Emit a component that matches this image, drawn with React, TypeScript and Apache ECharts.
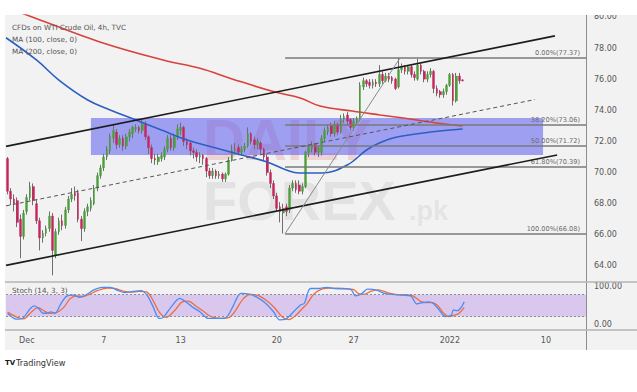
import React, { useEffect, useRef } from 'react';
import * as echarts from 'echarts';

// ---------- data ----------
const N_SLOTS = 181; // 4h slots incl. empty future space
const xTickIdx = [6, 30, 54, 84, 108, 138, 168];
const xTickText = ['Dec', '7', '13', '20', '27', '2022', '10'];
const priceTicks = [64, 66, 68, 70, 72, 74, 76, 78, 80];
const stochTicks = [0, 100];

// [open, close, low, high]
const ohlc: number[][] = [
  [70.9, 68.8, 68.6, 71.0], [68.8, 68.3, 67.9, 69.0], [68.3, 68.0, 67.5, 68.6], [68.2, 66.8, 66.5, 68.4],
  [67.0, 65.9, 64.5, 67.3], [65.9, 67.4, 65.7, 67.6], [67.5, 68.4, 67.3, 68.6], [68.4, 69.1, 68.2, 69.4],
  [69.1, 68.2, 67.9, 69.3], [68.0, 66.9, 66.7, 68.3], [66.9, 65.8, 65.0, 67.1], [65.8, 66.1, 65.5, 66.3],
  [66.1, 66.4, 65.9, 66.6], [66.4, 67.2, 66.2, 67.5], [67.2, 65.0, 63.4, 67.4], [64.7, 66.2, 64.5, 66.4],
  [66.2, 66.9, 66.0, 67.1], [66.9, 66.6, 66.3, 67.3], [66.6, 67.6, 66.4, 67.8], [67.6, 68.3, 67.4, 68.5],
  [68.3, 68.6, 68.1, 69.0], [68.7, 68.5, 68.2, 69.1], [68.7, 67.0, 66.8, 68.9], [67.0, 66.4, 65.6, 67.2],
  [66.4, 67.5, 66.2, 67.7], [67.5, 67.8, 67.2, 68.0], [67.7, 68.2, 67.5, 68.4], [68.0, 69.0, 67.9, 69.2],
  [69.0, 69.8, 68.8, 70.0], [69.8, 70.3, 69.6, 70.5], [70.3, 71.0, 70.1, 71.2], [71.0, 71.5, 70.8, 71.7],
  [71.4, 72.3, 71.2, 72.5], [72.2, 72.7, 71.9, 73.1], [72.6, 71.8, 71.5, 72.8], [71.8, 72.2, 71.6, 72.4],
  [72.2, 71.7, 71.4, 72.4], [71.7, 72.3, 71.5, 72.5], [72.3, 72.6, 72.0, 72.8], [72.5, 72.9, 72.2, 73.0],
  [72.8, 72.9, 72.6, 73.1], [72.9, 72.7, 72.5, 73.0], [72.7, 73.1, 72.5, 73.4], [73.1, 72.3, 72.1, 73.3],
  [72.3, 71.6, 71.2, 72.4], [71.6, 70.9, 70.6, 71.8], [70.9, 70.8, 70.5, 71.2], [70.7, 71.0, 70.5, 71.2],
  [70.9, 71.1, 70.7, 71.3], [71.0, 71.5, 70.8, 71.7], [71.5, 72.2, 71.3, 72.4], [72.2, 71.6, 71.4, 72.4],
  [71.6, 72.3, 71.4, 72.5], [72.3, 72.8, 72.1, 73.1], [72.7, 72.9, 72.4, 73.2], [72.9, 72.0, 71.7, 73.0],
  [72.0, 71.8, 71.5, 72.2], [71.9, 71.4, 71.1, 72.0], [71.4, 71.3, 70.9, 71.6], [71.3, 71.0, 70.7, 71.5],
  [71.0, 71.1, 70.6, 71.3], [71.1, 70.9, 70.5, 71.2], [70.9, 70.1, 69.7, 71.0], [70.1, 69.8, 69.6, 70.3],
  [69.8, 70.1, 69.6, 70.3], [70.1, 69.8, 69.6, 70.2], [69.8, 69.9, 69.6, 70.1], [69.9, 69.6, 69.4, 70.0],
  [69.6, 69.9, 69.4, 70.0], [69.9, 70.8, 69.8, 71.0], [70.8, 71.4, 70.7, 71.8], [71.4, 71.5, 71.2, 71.9],
  [71.6, 71.3, 71.1, 71.8], [71.3, 71.5, 71.1, 71.7], [71.5, 71.7, 71.3, 71.9], [71.7, 72.5, 71.6, 72.9],
  [72.5, 72.0, 71.8, 72.6], [72.1, 71.8, 71.5, 72.3], [71.8, 72.0, 71.5, 72.2], [71.9, 71.5, 71.2, 72.0],
  [71.5, 71.0, 70.8, 71.6], [71.0, 70.0, 69.8, 71.2], [70.0, 69.3, 69.0, 70.2], [69.3, 68.5, 68.3, 69.5],
  [68.5, 67.7, 67.5, 68.7], [67.8, 67.5, 66.8, 68.1], [67.4, 67.7, 66.08, 68.0], [67.8, 67.5, 67.2, 68.0],
  [67.6, 69.0, 67.4, 69.2], [69.0, 69.3, 68.8, 69.5], [69.3, 68.9, 68.7, 69.5], [69.2, 68.8, 68.6, 69.5],
  [68.8, 69.1, 68.6, 69.3], [69.1, 71.3, 69.0, 71.4], [71.3, 71.6, 71.0, 71.8], [71.5, 71.8, 71.3, 72.0],
  [71.8, 71.3, 71.1, 71.9], [71.3, 71.6, 71.0, 71.7], [71.3, 72.2, 71.1, 72.4], [72.2, 72.7, 72.0, 72.9],
  [72.6, 72.9, 72.4, 73.1], [73.0, 72.5, 72.3, 73.2], [72.5, 73.1, 72.3, 73.3], [73.1, 72.6, 72.4, 73.2],
  [72.6, 73.4, 72.5, 73.7], [73.4, 73.6, 73.2, 73.8], [73.7, 73.3, 73.0, 73.9], [73.4, 72.9, 72.7, 73.5],
  [72.9, 73.3, 72.7, 73.5], [73.2, 73.5, 73.0, 73.6], [73.4, 75.6, 73.3, 75.8], [75.5, 75.9, 75.3, 76.1],
  [75.9, 75.7, 75.5, 76.0], [75.8, 75.6, 75.4, 76.0], [75.6, 75.8, 75.4, 76.0], [75.8, 75.7, 75.5, 76.0],
  [75.7, 76.3, 75.5, 76.9], [76.3, 75.9, 75.7, 76.5], [75.9, 76.2, 75.8, 76.4], [76.2, 76.0, 75.8, 76.4],
  [76.1, 75.9, 75.7, 76.2], [76.0, 75.4, 75.3, 76.1], [75.5, 76.6, 75.4, 77.37], [76.6, 76.8, 76.4, 77.0],
  [76.8, 76.5, 76.3, 76.9], [76.5, 76.8, 76.3, 76.9], [76.8, 76.3, 76.1, 76.9], [76.3, 76.1, 75.9, 76.5],
  [76.0, 76.9, 75.9, 77.3], [76.9, 76.5, 76.3, 77.0], [76.5, 76.0, 75.8, 76.6], [76.0, 76.3, 75.8, 76.5],
  [76.3, 76.5, 76.1, 76.7], [76.5, 75.4, 75.1, 76.6], [75.4, 75.1, 74.9, 75.6], [75.2, 75.0, 74.8, 75.3],
  [75.0, 75.2, 74.8, 75.4], [75.2, 75.6, 75.0, 75.7], [75.6, 76.3, 75.5, 76.4], [76.3, 74.6, 74.3, 76.4],
  [74.6, 76.2, 74.5, 76.4], [76.2, 75.9, 75.7, 76.4], [75.95, 75.9, 75.85, 76.0],
];

// moving averages [slot, price]
const ma100: number[][] = [
  [-0.5, 78.66], [9, 77.23], [16, 75.94], [25, 74.66], [32, 74.02], [40, 73.38], [48, 72.73],
  [56, 72.09], [65, 71.58], [73, 71.13], [81, 70.68], [87, 70.16], [91, 69.97], [98, 69.97],
  [106, 70.49], [112, 71.45], [116, 71.9], [121.5, 72.28], [132, 72.6], [142, 72.8],
];
const ma200: number[][] = [
  [-0.5, 80.6], [8.5, 79.93], [28.8, 78.39], [48.5, 77.23], [60, 76.7], [70.3, 76.0], [83.5, 75.17],
  [91.3, 74.79], [97.5, 74.27], [107.5, 73.95], [116.2, 73.7], [123.4, 73.5], [131.8, 73.25], [142, 72.99],
];

// drawings
const channelUpper = [[-0.5, 71.68], [170.8, 78.78]];
const channelLower = [[-0.5, 64.04], [171.5, 71.13]];
const channelMid = [[-0.5, 67.86], [164.6, 74.69]];
const fibLevels = [77.37, 73.06, 71.72, 70.39, 66.08];
const fibPct = ['0.00%', '38.20%', '50.00%', '61.80%', '100.00%'];
const fibAnchor = [[86.6, 66.08], [122.5, 77.37]];
const zoneBox = [[26, 73.5], [167.1, 71.13]];

// stochastic (14,3,3)
const stochK: number[][] = [
  [0, 29], [2.7, 13], [4.6, 15], [7.1, 42], [8.4, 49], [9.7, 42], [11, 29], [12.2, 29], [13.5, 33], [14.8, 29],
  [16.7, 56], [18.6, 76], [20.5, 78], [22.4, 72], [24.3, 78], [26.9, 92], [29.4, 99], [32, 99], [34.6, 90],
  [36.5, 85], [38.4, 87], [41.6, 90], [43.5, 78], [45.4, 47], [47.3, 15], [48.6, 18], [51.1, 47], [53.7, 69],
  [55.6, 60], [57.5, 47], [60, 33], [62.6, 15], [66.4, 15], [68.3, 18], [70.3, 47], [72.8, 83], [75.4, 81],
  [77.9, 72], [80.5, 56], [83, 33], [84.9, 11], [86.8, 13], [88.8, 29], [91.3, 51], [92.6, 56], [94.5, 96],
  [97, 96], [99.6, 99], [102.2, 96], [104.7, 96], [107.3, 92], [108.5, 76], [110.4, 81], [112.3, 94],
  [114.9, 92], [117.5, 83], [120, 80], [123.2, 78], [125.8, 76], [127.7, 54], [129.6, 58], [131.5, 60],
  [132.8, 56], [134.7, 38], [136.6, 20], [138.5, 24], [139.1, 38], [140.4, 36], [141.7, 47], [142.5, 60],
];
const stochD: number[][] = [
  [0, 32], [3, 18], [5, 14], [7.5, 33], [9.5, 44], [11.5, 35], [13, 29], [15, 30], [17.5, 45], [19.5, 68],
  [21.5, 76], [23.5, 74], [25.5, 80], [28, 90], [31, 97], [33.5, 96], [36, 89], [38.5, 86], [41, 88],
  [43.5, 86], [45.5, 62], [47.5, 30], [49.5, 18], [52, 35], [54.5, 60], [56.5, 62], [58.5, 50], [61, 35],
  [63.5, 20], [66.5, 15], [69, 17], [71, 35], [73.5, 68], [76, 80], [78.5, 76], [81, 62], [83.5, 42],
  [85.8, 18], [87.8, 12], [89.8, 22], [92, 42], [93.5, 55], [95.5, 80], [98, 94], [100.5, 97], [103, 96],
  [105.5, 95], [108, 93], [109.5, 82], [111.3, 80], [113.3, 88], [115.8, 92], [118.5, 85], [121, 80],
  [124, 79], [126.5, 76], [128.7, 62], [130.5, 58], [132.5, 58], [134.2, 50], [136, 30], [137.6, 20],
  [139.5, 24], [141, 30], [142.5, 45],
];

// ---------- styles ----------
const FONT = 'DejaVu Sans';
const GREEN = '#4c9e3a';
const RED = '#c6245f';
const WICK = '#6f6f6f';
const TXT = '#555555';

export default function App() {
  const ref = useRef<HTMLDivElement>(null);

  useEffect(() => {
    if (!ref.current) return;
    const chart = echarts.init(ref.current, null, { renderer: 'svg' });
    const cats = Array.from({ length: N_SLOTS }, (_, i) => String(i));
    const tickMap: Record<string, string> = {};
    xTickIdx.forEach((ix, k) => (tickMap[String(ix)] = xTickText[k]));
    const bodies = ohlc.map(([o, c]) => [o, c, Math.min(o, c), Math.max(o, c)]);
    const line = (data: number[][], color: string, width: number, z: number, extra: any = {}) => ({
      type: 'line', xAxisIndex: 1, yAxisIndex: 0, data, showSymbol: false, symbol: 'none', silent: true, z,
      lineStyle: { color, width, ...(extra.lineStyle || {}) }, ...extra.rest,
    });

    const option: any = {
      animation: false,
      grid: [
        { left: 6, top: 15, width: 580, height: 267 },
        { left: 6, top: 282, width: 580, height: 48 },
      ],
      xAxis: [
        { type: 'category', gridIndex: 0, data: cats, show: false, boundaryGap: true },
        { type: 'value', gridIndex: 0, min: -0.5, max: N_SLOTS - 0.5, show: false },
        {
          type: 'category', gridIndex: 1, data: cats, boundaryGap: true,
          axisLine: { show: false }, axisTick: { show: false }, splitLine: { show: false },
          axisLabel: {
            interval: (idx: number) => xTickIdx.indexOf(idx) >= 0,
            formatter: (v: string) => tickMap[v] || '',
            color: TXT, fontSize: 8, fontFamily: FONT, margin: 6,
          },
        },
        { type: 'value', gridIndex: 1, min: -0.5, max: N_SLOTS - 0.5, show: false },
      ],
      yAxis: [
        {
          type: 'value', gridIndex: 0, position: 'right', min: 62.97, max: 80.12,
          axisLine: { show: false }, axisTick: { show: false }, splitLine: { show: false },
          axisLabel: { customValues: priceTicks, formatter: (v: number) => v.toFixed(2), color: TXT, fontSize: 8, fontFamily: FONT, margin: 8 },
        },
        {
          type: 'value', gridIndex: 1, position: 'right', min: -16.2, max: 113.5,
          axisLine: { show: false }, axisTick: { show: false }, splitLine: { show: false },
          axisLabel: { customValues: stochTicks, formatter: (v: number) => v.toFixed(2), color: TXT, fontSize: 8, fontFamily: FONT, margin: 8 },
        },
      ],
      series: [
        {
          type: 'candlestick', xAxisIndex: 0, yAxisIndex: 0, data: ohlc, barWidth: 1, z: 2, silent: true,
          itemStyle: { color: WICK, color0: WICK, borderColor: WICK, borderColor0: WICK, borderWidth: 1 },
        },
        {
          type: 'candlestick', xAxisIndex: 0, yAxisIndex: 0, data: bodies, barWidth: 2.2, z: 3, silent: true,
          itemStyle: { color: GREEN, color0: RED, borderColor: GREEN, borderColor0: RED, borderWidth: 0.4 },
        },
        line(ma200, '#d8423c', 1.6, 4, { rest: { smooth: 0.4 } }),
        line(ma100, '#2c5fc2', 1.6, 4, { rest: { smooth: 0.4 } }),
        line(zoneBox, 'rgba(0,0,0,0)', 0, 5, {
          rest: {
            markArea: {
              silent: true,
              itemStyle: { color: 'rgba(70,70,240,0.48)' },
              data: [[{ coord: zoneBox[0] }, { coord: zoneBox[1] }]],
            },
          },
        }),
        line(channelUpper, '#1c1c1c', 1.6, 6),
        line(channelLower, '#1c1c1c', 1.6, 6),
        line(channelMid, '#555555', 1, 6, { lineStyle: { type: [4, 3] } }),
        line(fibAnchor, '#8a8a8a', 1, 6, {
          rest: {
            markLine: {
              silent: true, symbol: 'none',
              lineStyle: { color: '#7a7a7a', width: 1.5, type: 'solid' },
              label: { show: true, position: 'insideEndTop', distance: [6, 1], formatter: (p: any) => p.name, color: '#6a6a6a', fontSize: 6.6, fontFamily: FONT },
              data: fibLevels.map((lv, k) => [
                { coord: [fibAnchor[0][0], lv], name: `${fibPct[k]}(${lv.toFixed(2)})` },
                { coord: [N_SLOTS - 0.5, lv] },
              ]),
            },
          },
        }),
        {
          type: 'line', xAxisIndex: 3, yAxisIndex: 1, data: stochD, smooth: 0.3, showSymbol: false, symbol: 'none', silent: true, z: 3,
          lineStyle: { color: '#f26b3a', width: 1.3 },
          markArea: { silent: true, itemStyle: { color: 'rgba(160,100,230,0.3)' }, data: [[{ yAxis: 20 }, { yAxis: 80 }]] },
          markLine: {
            silent: true, symbol: 'none', label: { show: false },
            lineStyle: { color: '#8e8e8e', width: 1, type: [2, 2] },
            data: [{ yAxis: 80 }, { yAxis: 20 }],
          },
        },
        {
          type: 'line', xAxisIndex: 3, yAxisIndex: 1, data: stochK, smooth: 0.3, showSymbol: false, symbol: 'none', silent: true, z: 4,
          lineStyle: { color: '#4a8cf5', width: 1.3 },
        },
      ],
      graphic: {
        elements: [
          { type: 'text', z: 1, silent: true, style: { x: 203, y: 139, text: 'DAILY', fill: 'rgba(220,60,60,0.17)', font: 'bold 58px "Liberation Sans"', verticalAlign: 'middle' } },
          { type: 'text', z: 1, silent: true, style: { x: 203, y: 200, text: 'FOREX', fill: 'rgba(100,100,100,0.11)', font: 'bold 56px "Liberation Sans"', verticalAlign: 'middle' } },
          { type: 'text', z: 1, silent: true, style: { x: 409, y: 211, text: '.pk', fill: 'rgba(100,100,100,0.11)', font: 'bold 27px "Liberation Sans"', verticalAlign: 'middle' } },
          { type: 'rect', z: 100, silent: true, shape: { x: 540, y: 0, width: 97, height: 15 }, style: { fill: '#ffffff' } },
          { type: 'line', z: 50, silent: true, shape: { x1: 586.5, y1: 15, x2: 586.5, y2: 350 }, style: { stroke: '#8c8c8c', lineWidth: 1 } },
          { type: 'line', z: 50, silent: true, shape: { x1: 5, y1: 282, x2: 637, y2: 282 }, style: { stroke: '#b4b4b4', lineWidth: 1.5 } },
          { type: 'line', z: 50, silent: true, shape: { x1: 5, y1: 330, x2: 637, y2: 330 }, style: { stroke: '#b4b4b4', lineWidth: 1.5 } },
          { type: 'text', z: 60, silent: true, style: { x: 12, y: 27, text: 'CFDs on WTI Crude Oil, 4h, TVC', fill: TXT, font: `7.2px "${FONT}"`, verticalAlign: 'middle' } },
          { type: 'text', z: 60, silent: true, style: { x: 12, y: 39, text: 'MA (100, close, 0)', fill: TXT, font: `7.2px "${FONT}"`, verticalAlign: 'middle' } },
          { type: 'text', z: 60, silent: true, style: { x: 12, y: 51, text: 'MA (200, close, 0)', fill: TXT, font: `7.2px "${FONT}"`, verticalAlign: 'middle' } },
          { type: 'text', z: 60, silent: true, style: { x: 12, y: 290, text: 'Stoch (14, 3, 3)', fill: TXT, font: `7.2px "${FONT}"`, verticalAlign: 'middle' } },
          { type: 'text', z: 60, silent: true, style: { x: 5, y: 363, text: 'TV', fill: '#131722', font: `900 7px "${FONT}"`, verticalAlign: 'middle' } },
          { type: 'text', z: 60, silent: true, style: { x: 16, y: 363, text: 'TradingView', fill: '#333333', font: `8.2px "${FONT}"`, verticalAlign: 'middle' } },
        ],
      },
    };
    chart.setOption(option);
    return () => chart.dispose();
  }, []);

  return (
    <div style={{ position: 'absolute', left: 0, top: 0, width: 637, height: 392, background: '#ffffff' }}>
      <div style={{ position: 'absolute', left: 5, top: 15, width: 632, height: 335, background: '#f2f2f2' }} />
      <div ref={ref} style={{ position: 'absolute', left: 0, top: 0, width: 637, height: 392 }} />
    </div>
  );
}
